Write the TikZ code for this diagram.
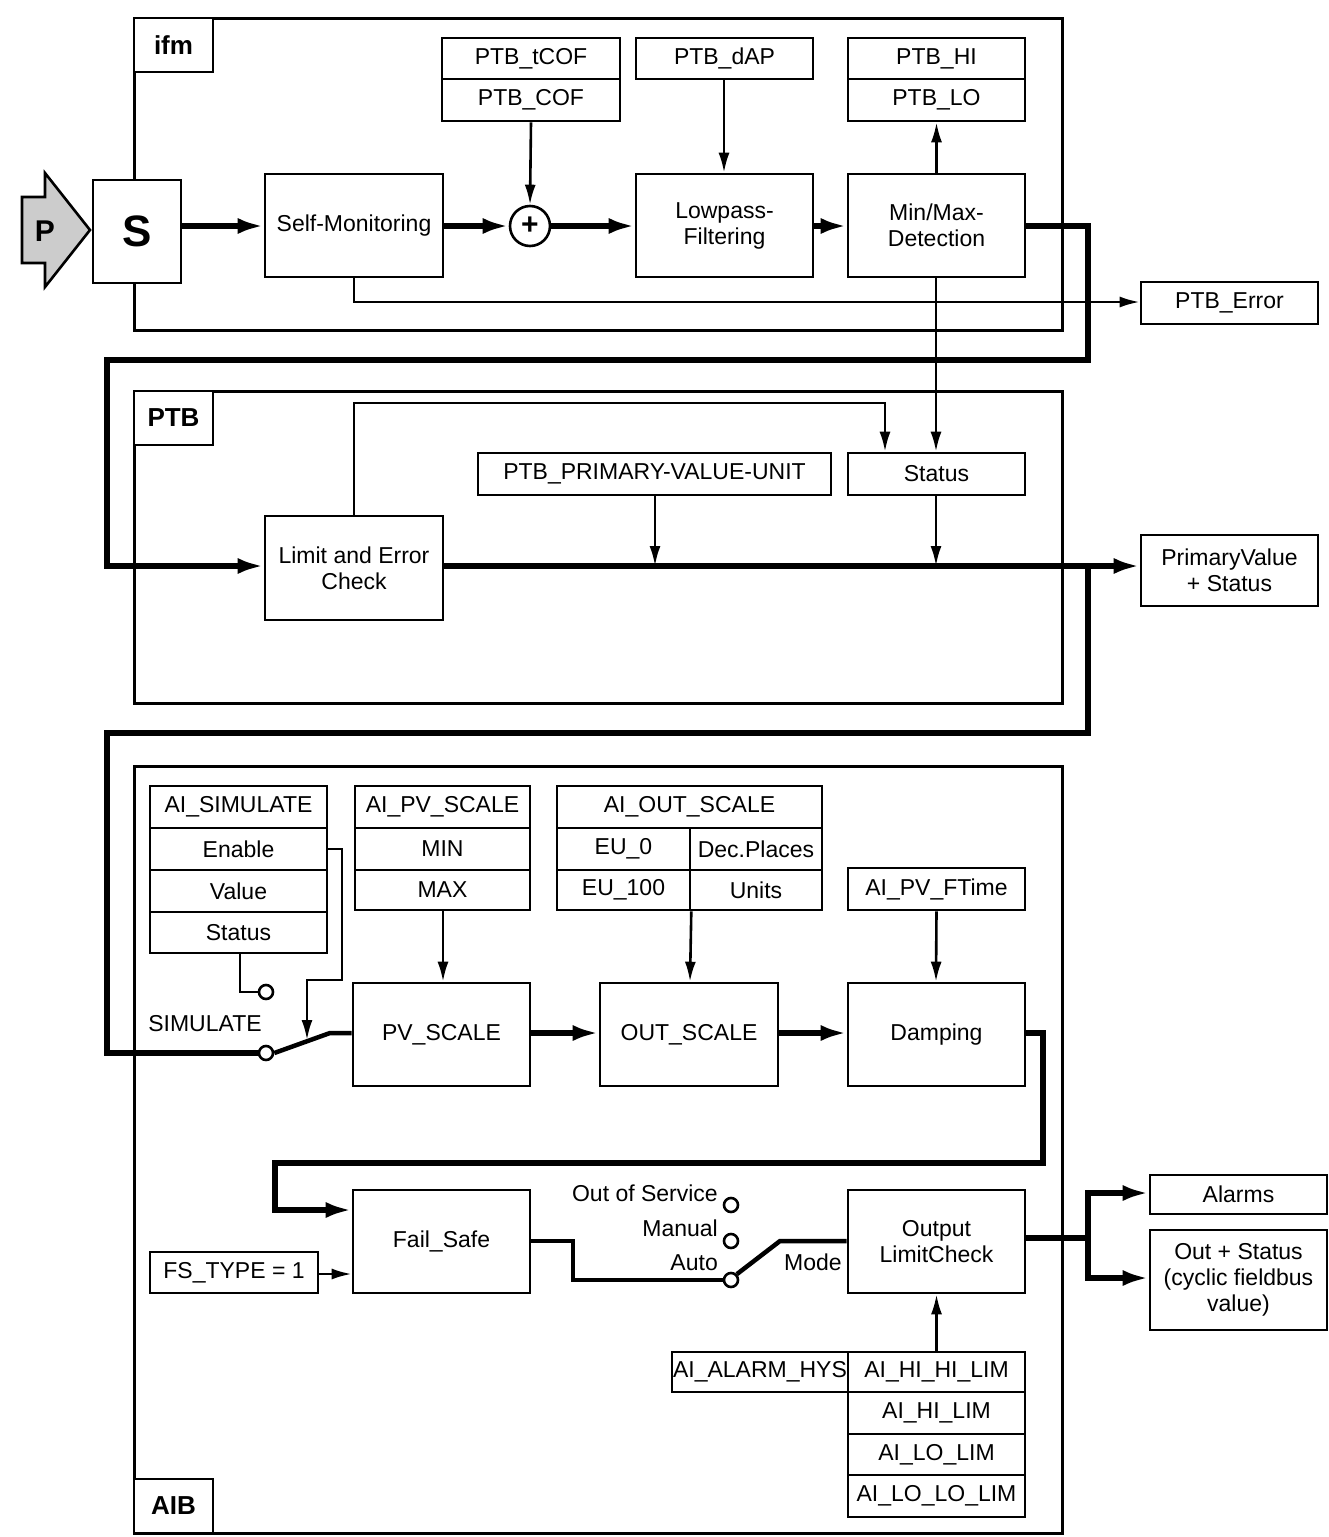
\documentclass[tikz,border=0pt]{standalone}
\usepackage{fontspec}
\setmainfont{Liberation Sans}
\usetikzlibrary{arrows.meta}
\newcommand\bx[6]{\node[bx,minimum width={(#4-#2)*1pt},minimum height={(#5-#3)*1pt}] (#1) at ({(#2+#4)/2},{(#3+#5)/2}) {#6};}
\tikzset{
 bx/.style={draw,line width=2.6pt,inner sep=0pt,align=center,font=\fontsize{23}{26}\selectfont},
 thin/.style={line width=2.6pt},
 thk/.style={line width=6pt},
 tA/.style={-{Latex[length=20pt,width=11pt]}},
 TA/.style={-{Latex[length=26pt,width=16pt]}},
 lbl/.style={font=\fontsize{23}{26}\selectfont,inner sep=0pt},
 frame/.style={draw,line width=3pt},
 sw/.style={circle,draw,fill=white,line width=2.6pt,minimum size=14pt,inner sep=0pt},
}
\begin{document}
\begin{tikzpicture}[x=1pt,y=-1pt]
\useasboundingbox (0,0) rectangle (1329,1537);
% frames
\draw[frame] (134,18) rectangle (1062,330);
\draw[frame] (134,391) rectangle (1062,703);
\draw[frame] (134,766) rectangle (1062,1533);
\node[bx,font=\fontsize{26}{28}\selectfont\bfseries,minimum width=79pt,minimum height=54pt,fill=white] (lifm) at (173.5,45) {ifm};
\node[bx,font=\fontsize{26}{28}\selectfont\bfseries,minimum width=79pt,minimum height=54pt,fill=white] (lptb) at (173.5,418) {PTB};
\node[bx,font=\fontsize{26}{28}\selectfont\bfseries,minimum width=79pt,minimum height=54pt,fill=white] (laib) at (173.5,1506) {AIB};
% ifm section
\draw[line width=2.6pt,fill=gray!40] (22,197)--(45,197)--(45,173)--(90,230)--(45,287)--(45,263)--(22,263)--cycle;
\node[font=\fontsize{30}{30}\selectfont\bfseries] (p) at (45,231) {P};
\node[bx,fill=white,font=\fontsize{44}{44}\selectfont\bfseries,minimum width=88pt,minimum height=103pt] (s) at (137,231.5) {S};
\bx{sm}{265}{174}{443}{277}{Self-Monitoring}
\node[circle,draw,line width=2.6pt,minimum size=40pt,inner sep=0pt,font=\fontsize{30}{30}\selectfont\bfseries] (plus) at (530,226) {+};
\bx{tcof}{442}{38}{620}{79}{PTB\_tCOF}
\bx{cof}{442}{79}{620}{121}{PTB\_COF}
\bx{dap}{636}{38}{813}{79}{PTB\_dAP}
\bx{hi}{848}{38}{1025}{79}{PTB\_HI}
\bx{lo}{848}{79}{1025}{121}{PTB\_LO}
\bx{lp}{636}{174}{813}{277}{Lowpass-\\Filtering}
\bx{mm}{848}{174}{1025}{277}{Min/Max-\\Detection}
\bx{err}{1141}{282}{1318}{324}{PTB\_Error}
\draw[thk,TA] (s.east|-0,226) -- (sm.west|-0,226);
\draw[thk,TA] (sm.east|-0,226) -- (plus.west);
\draw[thk,TA] (plus.east) -- (lp.west|-0,226);
\draw[thk,TA] (lp.east|-0,226) -- (mm.west|-0,226);
\draw[thin,tA] (cof.south) -- (plus.north);
\draw[thin,tA] (dap.south-|724,0) -- (lp.north-|724,0);
\draw[thin,tA] (mm.north) -- (lo.south);
\draw[thin,tA] (sm.south-|354,0) -- (354,302) -- (err.west|-0,302);
% PTB section
\bx{lec}{265}{516}{443}{620}{Limit and Error\\Check}
\bx{pvu}{478}{453}{831}{495}{PTB\_PRIMARY-VALUE-UNIT}
\bx{st}{848}{453}{1025}{495}{Status}
\bx{pv}{1141}{535}{1318}{606}{PrimaryValue\\+ Status}
\draw[thk,TA] (mm.east|-0,226) -- (1088,226) -- (1088,360) -- (107,360) -- (107,566) -- (lec.west|-0,566);
\draw[thin,tA] (mm.south-|936,0) -- (st.north-|936,0);
\draw[thin,tA] (lec.north-|354,0) -- (354,403) -- (885,403) -- (st.north-|885,0);
\draw[thk,TA] (lec.east|-0,566) -- (pv.west|-0,566);
\draw[thin,tA] (pvu.south-|655,0) -- (655,566);
\draw[thin,tA] (st.south-|936,0) -- (936,566);
% AIB section
\bx{sim}{150}{786}{327}{828}{AI\_SIMULATE}
\bx{en}{150}{828}{327}{870}{Enable}
\bx{val}{150}{870}{327}{912}{Value}
\bx{sst}{150}{912}{327}{953}{Status}
\bx{pvs}{355}{786}{530}{828}{AI\_PV\_SCALE}
\bx{min}{355}{828}{530}{870}{MIN}
\bx{max}{355}{870}{530}{910}{MAX}
\bx{outs}{557}{786}{822}{828}{AI\_OUT\_SCALE}
\bx{eu0}{557}{828}{690}{870}{EU\_0}
\bx{dec}{690}{828}{822}{870}{Dec.Places}
\bx{eu100}{557}{870}{690}{910}{EU\_100}
\bx{units}{690}{870}{822}{910}{Units}
\bx{ft}{848}{868}{1025}{910}{AI\_PV\_FTime}
\bx{pvsc}{353}{983}{530}{1086}{PV\_SCALE}
\bx{outsc}{600}{983}{778}{1086}{OUT\_SCALE}
\bx{damp}{848}{983}{1025}{1086}{Damping}
\draw[thin,tA] (max.south-|443,0) -- (pvsc.north-|443,0);
\draw[thin,tA] (eu100.south east) -- (outsc.north-|690,0);
\draw[thin,tA] (ft.south) -- (damp.north-|936,0);
\draw[thk,TA] (pvsc.east|-0,1033) -- (outsc.west|-0,1033);
\draw[thk,TA] (outsc.east|-0,1033) -- (damp.west|-0,1033);
% simulate switch
\node[sw] (swa) at (266,1053) {};
\node[sw] (swb) at (266,992) {};
\draw[thk] (1088,566) -- (1088,733) -- (107,733) -- (107,1053) -- (swa.west);
\draw[thin] (sst.south-|240,0) -- (240,992) -- (swb.west);
\draw[thk,line width=4.5pt] (swa.east) -- (330,1033) -- (pvsc.west|-0,1033);
\draw[thin,tA] (en.east) -- (342,849) -- (342,980) -- (307,980) -- (307,1040);
\node[lbl] (simlbl) at (205,1024) {SIMULATE};
% fail safe
\bx{fs}{353}{1190}{530}{1293}{Fail\_Safe}
\bx{fst}{150}{1252}{318}{1293}{FS\_TYPE = 1}
\bx{olc}{848}{1190}{1025}{1293}{Output\\LimitCheck}
\draw[thk,TA] (damp.east|-0,1033) -- (1043,1033) -- (1043,1163) -- (275,1163) -- (275,1210) -- (fs.west|-0,1210);
\draw[thin,tA] (fst.east|-0,1274) -- (fs.west|-0,1274);
\node[sw] (mo) at (731,1205) {};
\node[sw] (mm2) at (731,1241) {};
\node[sw] (ma) at (731,1280) {};
\draw[line width=4.5pt] (fs.east|-0,1241) -- (573,1241) -- (573,1280) -- (ma.west);
\draw[line width=4.5pt] (ma.north east) -- (780,1241) -- (olc.west|-0,1241);
\node[lbl,anchor=east] (los) at (718,1193) {Out of Service};
\node[lbl,anchor=east] (lman) at (718,1228) {Manual};
\node[lbl,anchor=east] (laut) at (718,1263) {Auto};
\node[lbl] (lmode) at (813,1262) {Mode};
\bx{alm}{1150}{1175}{1327}{1214}{Alarms}
\bx{ost}{1150}{1230}{1327}{1330}{Out + Status\\(cyclic fieldbus\\value)}
\draw[thk] (olc.east|-0,1238) -- (1088,1238);
\draw[thk,TA] (1088,1238) -- (1088,1193) -- (alm.west|-0,1193);
\draw[thk,TA] (1088,1238) -- (1088,1278) -- (ost.west|-0,1278);
\bx{hys}{672}{1352}{848}{1392}{AI\_ALARM\_HYS}
\bx{hh}{848}{1352}{1025}{1392}{AI\_HI\_HI\_LIM}
\bx{h}{848}{1392}{1025}{1434}{AI\_HI\_LIM}
\bx{l}{848}{1434}{1025}{1475}{AI\_LO\_LIM}
\bx{ll}{848}{1475}{1025}{1517}{AI\_LO\_LO\_LIM}
\draw[thin,tA] (hh.north) -- (olc.south);
\end{tikzpicture}
\end{document}
